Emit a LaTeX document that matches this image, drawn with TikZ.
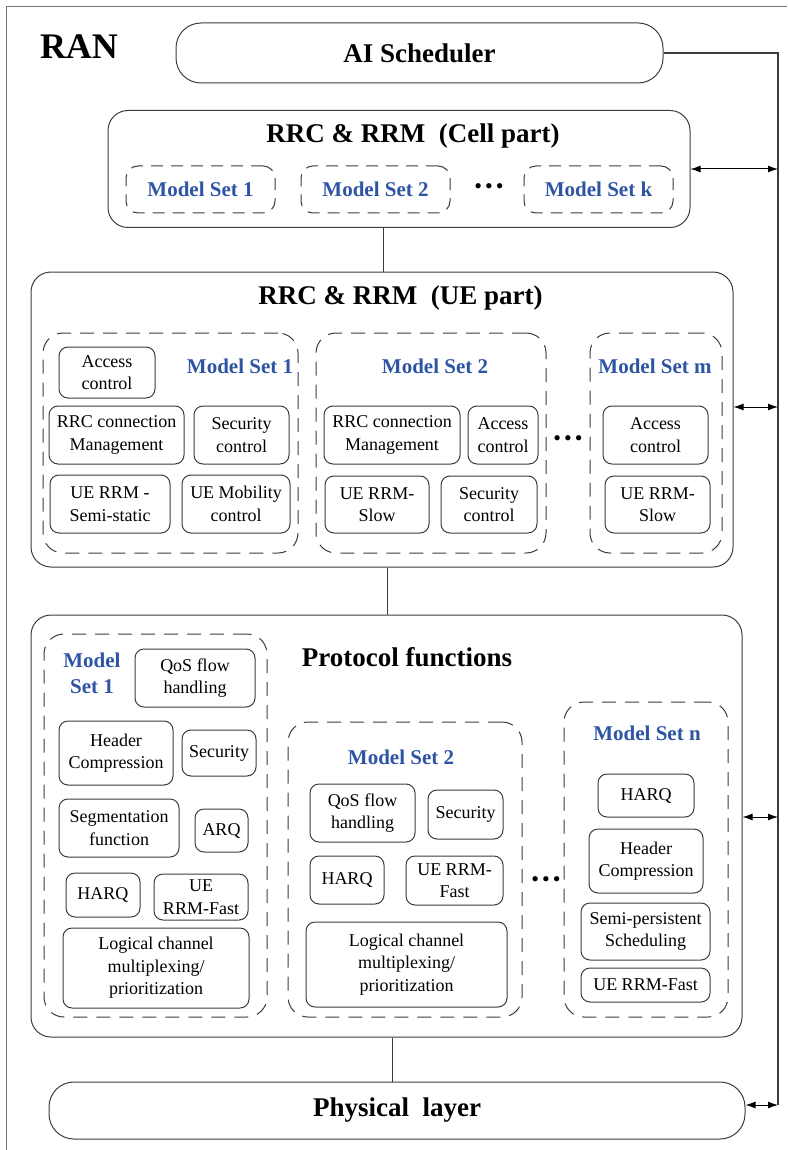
\documentclass[tikz,border=0pt]{standalone}
\usepackage{fontspec}
\setmainfont{Liberation Serif}
\usetikzlibrary{arrows.meta}

\definecolor{setblue}{RGB}{46,84,164}
\definecolor{linegray}{RGB}{60,60,60}

\tikzset{
  wh/.style n args={2}{minimum width=#1pt, minimum height=#2pt},
  layerbox/.style={draw=linegray, line width=1pt, rounded corners=20pt, inner sep=0pt},
  pillbox/.style={draw=linegray, line width=1pt, rounded corners=25pt, inner sep=0pt,
    font=\bfseries\fontsize{27}{30}\selectfont},
  setbox/.style={draw=linegray, line width=1pt, dash pattern=on 14pt off 9pt, rounded corners=20pt, inner sep=0pt},
  cellset/.style={draw=linegray, line width=1pt, dash pattern=on 12pt off 8pt, rounded corners=12pt, inner sep=0pt,
    text=setblue, font=\bfseries\fontsize{21}{24}\selectfont},
  funcbox/.style={draw=linegray, line width=1pt, rounded corners=9pt, inner sep=0pt, align=center,
    font=\fontsize{18}{22.5}\selectfont},
  setlabel/.style={text=setblue, align=center, inner sep=0pt, font=\bfseries\fontsize{21}{26}\selectfont},
  parttitle/.style={inner sep=0pt, font=\bfseries\fontsize{27}{30}\selectfont},
  moredots/.style={inner sep=0pt, font=\fontsize{22}{22}\selectfont},
}

\begin{document}
\begin{tikzpicture}[x=1pt, y=-1pt, line width=1pt, >={Latex[length=10pt,width=7pt]}]

    \useasboundingbox (0,0) rectangle (787,1150);

    %frame
    \draw[gray!90!black] (6,1150) -- (6,7) -- (787,7);
    \node[inner sep=0pt, font=\bfseries\fontsize{36}{40}\selectfont] (ran) at (79,47) {RAN};

    %AI scheduler
    \node[pillbox, wh={487}{60}] (ai) at (419.5,53) {AI Scheduler};

    %cell part
    \node[layerbox, wh={582}{117}] (cell) at (399,169) {};
    \node[parttitle] (celltitle) at (413,136) {RRC \& RRM\ \ (Cell part)};
    \node[cellset, wh={149}{47}] (cms1) at (200.5,189.5) {Model Set 1};
    \node[cellset, wh={149}{47}] (cms2) at (375.5,189.5) {Model Set 2};
    \node[moredots] (cdots) at (489,189) {\textbullet\kern3pt\textbullet\kern3pt\textbullet};
    \node[cellset, wh={149}{47}] (cmsk) at (598.5,189.5) {Model Set k};

    %UE part
    \node[layerbox, wh={702}{295}] (ue) at (382,419.5) {};
    \node[parttitle] (uetitle) at (400.5,298) {RRC \& RRM\ \ (UE part)};

    \node[setbox, wh={255}{220}] (ums1) at (170.5,443) {};
    \node[setlabel] (ulab1) at (240,366) {Model Set 1};
    \node[funcbox, wh={96}{51}] (uac1) at (107,372.5) {Access\\control};
    \node[funcbox, wh={135}{58}] (urrc1) at (116.5,435) {RRC connection\\Management};
    \node[funcbox, wh={95}{58}] (usec1) at (241.5,435) {Security\\control};
    \node[funcbox, wh={120}{58}] (usemi1) at (110,504) {UE RRM -\\Semi-static};
    \node[funcbox, wh={108}{58}] (umob1) at (236,504) {UE Mobility\\control};

    \node[setbox, wh={230}{220}] (ums2) at (431,443) {};
    \node[setlabel] (ulab2) at (435,366) {Model Set 2};
    \node[funcbox, wh={136}{58}] (urrc2) at (392,435) {RRC connection\\Management};
    \node[funcbox, wh={70}{58}] (uac2) at (503,435) {Access\\control};
    \node[funcbox, wh={104}{57}] (uslow2) at (377,504.5) {UE RRM-\\Slow};
    \node[funcbox, wh={96}{57}] (usec2) at (489,504.5) {Security\\control};

    \node[moredots] (udots) at (568,441) {\textbullet\kern3pt\textbullet\kern3pt\textbullet};

    \node[setbox, wh={132}{220}] (umsm) at (656,443) {};
    \node[setlabel] (ulabm) at (655,366) {Model Set m};
    \node[funcbox, wh={105}{58}] (uacm) at (655.5,435) {Access\\control};
    \node[funcbox, wh={105}{57}] (uslowm) at (657.5,504.5) {UE RRM-\\Slow};

    %protocol functions
    \node[layerbox, wh={711}{422}] (pf) at (386.5,826) {};
    \node[parttitle] (pftitle) at (407,657) {Protocol functions};

    \node[setbox, wh={223}{383}] (pms1) at (155.5,825.5) {};
    \node[setlabel] (plab1) at (92,673) {Model\\Set 1};
    \node[funcbox, wh={120}{58}] (pqos1) at (195,678) {QoS flow\\handling};
    \node[funcbox, wh={114}{64}] (phc1) at (116,753) {Header\\Compression};
    \node[funcbox, wh={74}{46}] (psec1) at (219,753) {Security};
    \node[funcbox, wh={120}{58}] (pseg1) at (119,828) {Segmentation\\function};
    \node[funcbox, wh={53}{43}] (parq1) at (221.5,830.5) {ARQ};
    \node[funcbox, wh={74}{44}] (pharq1) at (103,895) {HARQ};
    \node[funcbox, wh={94}{46}] (pfast1) at (201,897) {UE\\RRM-Fast};
    \node[funcbox, wh={186}{80}] (plc1) at (156,968) {Logical channel\\multiplexing/\\prioritization};

    \node[setbox, wh={234}{295}] (pms2) at (405,869.5) {};
    \node[setlabel] (plab2) at (401,757) {Model Set 2};
    \node[funcbox, wh={105}{58}] (pqos2) at (362.5,813) {QoS flow\\handling};
    \node[funcbox, wh={75}{49}] (psec2) at (465.5,814.5) {Security};
    \node[funcbox, wh={74}{48}] (pharq2) at (347,880) {HARQ};
    \node[funcbox, wh={97}{49}] (pfast2) at (454.5,880.5) {UE RRM-\\Fast};
    \node[funcbox, wh={201}{85}] (plc2) at (406.5,964.5) {Logical channel\\multiplexing/\\prioritization};

    \node[moredots] (pdots) at (546,882) {\textbullet\kern3pt\textbullet\kern3pt\textbullet};

    \node[setbox, wh={164}{315}] (pmsn) at (646,859.5) {};
    \node[setlabel] (plabn) at (647,733) {Model Set n};
    \node[funcbox, wh={96}{43}] (pharqn) at (646,795.5) {HARQ};
    \node[funcbox, wh={114}{64}] (phcn) at (646,861) {Header\\Compression};
    \node[funcbox, wh={129}{57}] (pspsn) at (645.5,931.5) {Semi-persistent\\Scheduling};
    \node[funcbox, wh={129}{34}] (pfastn) at (645.5,985) {UE RRM-Fast};

    %physical layer
    \node[pillbox, wh={696}{57}] (phy) at (397,1110.5) {Physical\ \ layer};

    %vertical links
    \coordinate (v1) at (383,0);
    \coordinate (v2) at (387,0);
    \coordinate (v3) at (392,0);
    \draw[linegray] (cell.south -| v1) -- (ue.north -| v1);
    \draw[linegray] (ue.south -| v2) -- (pf.north -| v2);
    \draw[linegray] (pf.south -| v3) -- (phy.north -| v3);

    %bus to AI scheduler
    \coordinate (bustop) at (778,53);
    \coordinate (buscell) at (778,169);
    \coordinate (busue) at (778,407);
    \coordinate (buspf) at (778,817);
    \coordinate (busphy) at (778,1105);
    \draw[linegray, line width=1.3pt] (ai.east) -- (bustop) -- (busphy);
    \draw[<->] (buscell -| cell.east) -- (buscell);
    \draw[<->] (busue -| ue.east) -- (busue);
    \draw[<->] (buspf -| pf.east) -- (buspf);
    \draw[<->] (busphy -| phy.east) -- (busphy);

\end{tikzpicture}
\end{document}
